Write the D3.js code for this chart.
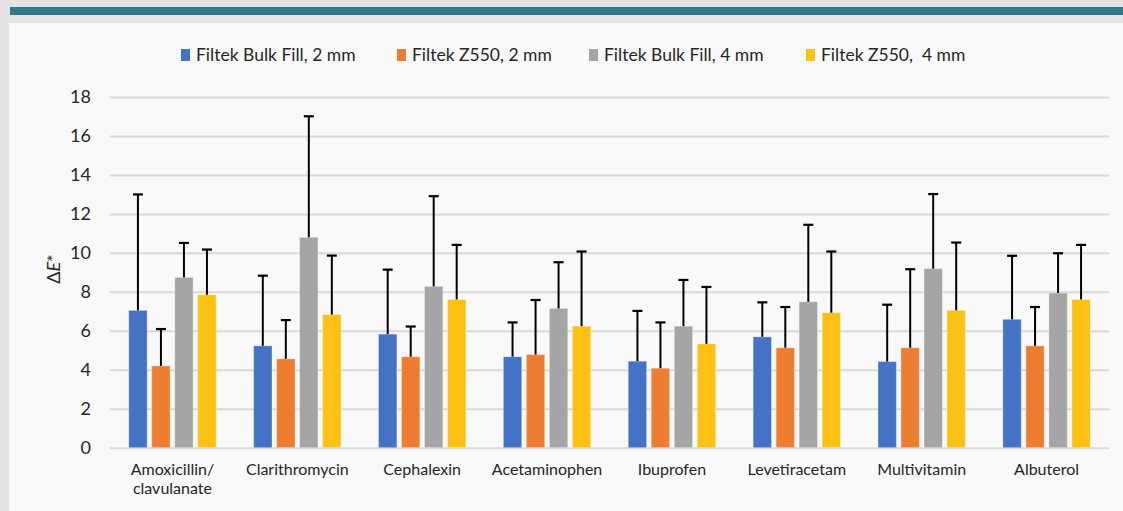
<!DOCTYPE html>
<html>
<head>
  <meta charset="utf-8">
  <script src="https://d3js.org/d3.v7.min.js"></script>
  <style>
    body { margin: 0; background: #e4e3e1; }
    svg { display: block; font-family: Lato, "Open Sans", sans-serif; }
  </style>
</head>
<body>
  <script>
    // categories (drugs) and series (composite + thickness)
    var categories = ["Amoxicillin/\nclavulanate", "Clarithromycin", "Cephalexin", "Acetaminophen",
      "Ibuprofen", "Levetiracetam", "Multivitamin", "Albuterol"];
    var seriesNames = ["Filtek Bulk Fill, 2 mm", "Filtek Z550, 2 mm", "Filtek Bulk Fill, 4 mm", "Filtek Z550,  4 mm"];
    var seriesColors = ["#4472c4", "#ed7d31", "#a5a5a5", "#fcc113"];

    // mean delta E per series
    var bulk2Mean = [7.05, 5.23, 5.83, 4.67, 4.44, 5.69, 4.42, 6.59];
    var z550_2Mean = [4.20, 4.56, 4.67, 4.78, 4.08, 5.13, 5.13, 5.23];
    var bulk4Mean = [8.74, 10.80, 8.28, 7.15, 6.24, 7.49, 9.19, 7.94];
    var z550_4Mean = [7.85, 6.83, 7.61, 6.24, 5.33, 6.93, 7.05, 7.61];

    // standard deviations (upper error bars only)
    var bulk2Sd = [5.95, 3.60, 3.31, 1.76, 2.58, 1.77, 2.92, 3.26];
    var z550_2Sd = [1.89, 1.99, 1.55, 2.80, 2.35, 2.09, 4.03, 1.99];
    var bulk4Sd = [1.77, 6.21, 4.63, 2.37, 2.37, 3.95, 3.83, 2.04];
    var z550_4Sd = [2.32, 3.03, 2.80, 3.83, 2.92, 3.14, 3.48, 2.80];

    var yTicks = [0, 2, 4, 6, 8, 10, 12, 14, 16, 18];

    var means = [bulk2Mean, z550_2Mean, bulk4Mean, z550_4Mean];
    var sds = [bulk2Sd, z550_2Sd, bulk4Sd, z550_4Sd];

    var outerWidth = 1123, outerHeight = 511;
    var margin = { top: 97, left: 110, right: 14, bottom: 64 };
    var height = outerHeight - margin.top - margin.bottom + 0.7;
    var textColor = "#262626";

    var svg = d3.select("body").append("svg")
      .attr("width", outerWidth)
      .attr("height", outerHeight);

    // page frame: teal rule and off-white panel
    svg.append("rect").attr("x", 10).attr("y", 7).attr("width", outerWidth - 10).attr("height", 8).attr("fill", "#327a89");
    svg.append("rect").attr("x", 9).attr("y", 23).attr("width", outerWidth - 9).attr("height", outerHeight - 23).attr("fill", "#f9f9f9");

    var x0 = d3.scaleBand()
      .domain(categories)
      .range([110, 1109])
      .paddingInner(0.3)
      .paddingOuter(0.15);

    var x1 = d3.scaleBand()
      .domain(seriesNames)
      .range([0, x0.bandwidth()])
      .paddingInner(0.2);

    var yScale = d3.scaleLinear()
      .domain([0, 18])
      .range([margin.top + height, margin.top]);

    // gridlines + tick labels
    var yAxis = d3.axisLeft(yScale)
      .tickValues(yTicks)
      .tickSize(-(1109 - 110))
      .tickPadding(19);

    var yAxisG = svg.append("g")
      .attr("transform", "translate(110 0)")
      .call(yAxis);
    yAxisG.select(".domain").remove();
    yAxisG.selectAll(".tick line").attr("stroke", "#d9d9d9").attr("stroke-width", 2);
    yAxisG.selectAll(".tick text")
      .attr("fill", textColor)
      .style("font-size", "18px")
      .style("font-family", "Lato, sans-serif");

    // bars
    var groups = svg.append("g").selectAll("g")
      .data(categories)
      .join("g")
      .attr("transform", function(d) { return "translate(" + x0(d) + " 0)"; });

    groups.each(function(cat, ci) {
      var g = d3.select(this);
      seriesNames.forEach(function(s, si) {
        var m = means[si][ci], sd = sds[si][ci];
        var bx = x1(s), bw = x1.bandwidth();
        g.append("rect")
          .attr("x", bx)
          .attr("y", yScale(m))
          .attr("width", bw)
          .attr("height", yScale(0) - yScale(m))
          .attr("fill", seriesColors[si])
          .attr("stroke", "#ffffff")
          .attr("stroke-opacity", 0.35)
          .attr("stroke-width", 1);
        var cx = bx + bw / 2;
        g.append("line")
          .attr("x1", cx).attr("x2", cx)
          .attr("y1", yScale(m)).attr("y2", yScale(m + sd))
          .attr("stroke", "#000").attr("stroke-width", 2);
        g.append("line")
          .attr("x1", cx - 5).attr("x2", cx + 5)
          .attr("y1", yScale(m + sd)).attr("y2", yScale(m + sd))
          .attr("stroke", "#000").attr("stroke-width", 2.2);
      });
    });

    // category labels, split on newline
    svg.append("g").selectAll("text")
      .data(categories)
      .join("text")
      .attr("x", function(d) { return x0(d) + x0.bandwidth() / 2; })
      .attr("y", 475)
      .attr("text-anchor", "middle")
      .attr("fill", textColor)
      .style("font-size", "16px")
      .each(function(d) {
        var lines = d.split("\n");
        var t = d3.select(this);
        lines.forEach(function(line, i) {
          t.append("tspan")
            .attr("x", x0(d) + x0.bandwidth() / 2)
            .attr("dy", i === 0 ? 0 : 18.5)
            .text(line);
        });
      });

    // y axis title
    var yTitle = svg.append("text")
      .attr("transform", "translate(60 269) rotate(-90)")
      .attr("text-anchor", "middle")
      .attr("fill", textColor)
      .style("font-size", "18px");
    yTitle.append("tspan").text("\u0394");
    yTitle.append("tspan").style("font-style", "italic").text("E");
    yTitle.append("tspan").text("*");

    // legend
    var legendX = [181, 397, 589, 806];
    var legend = svg.append("g").selectAll("g")
      .data(seriesNames)
      .join("g")
      .attr("transform", function(d, i) { return "translate(" + legendX[i] + " 49)"; });
    legend.append("rect")
      .attr("width", 9).attr("height", 12)
      .attr("fill", function(d, i) { return seriesColors[i]; });
    legend.append("text")
      .attr("x", 15).attr("y", 11.5)
      .attr("fill", textColor)
      .style("font-size", "17.5px")
      .style("white-space", "pre")
      .text(function(d) { return d; });
  </script>
</body>
</html>
